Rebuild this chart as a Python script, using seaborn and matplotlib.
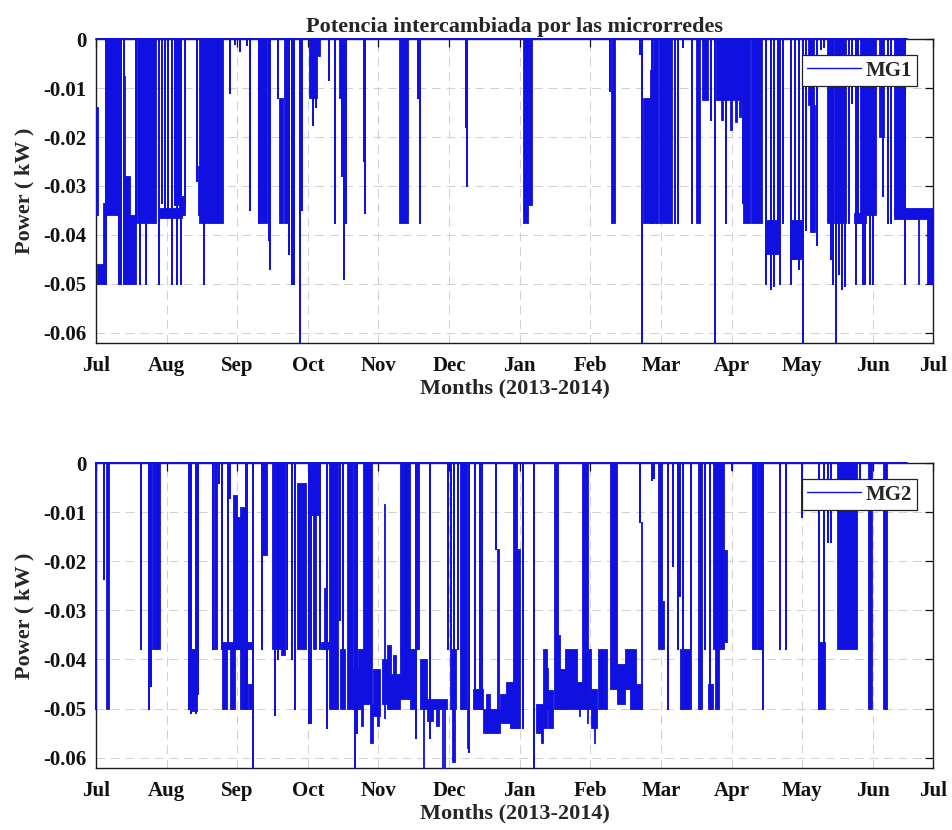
import matplotlib
matplotlib.use("Agg")
import matplotlib.pyplot as plt
import pandas as pd
import seaborn as sns

# ---------------------------------------------------------------- data
# x axis: days since 1 July 2013; y axis: exchanged power in kW
months = ["Jul", "Aug", "Sep", "Oct", "Nov", "Dec", "Jan",
          "Feb", "Mar", "Apr", "May", "Jun", "Jul"]
power_ticks = [0, -0.01, -0.02, -0.03, -0.04, -0.05, -0.06]

# MG1: short discharge events (day, kW) dropping from 0
mg1_spike_day = [4.2, 9.9, 10.9, 12.2, 17.6, 19.2, 21.8, 25.3, 27.7, 28.6, 30.0,
                 31.5, 33.3, 34.3, 35.2, 36.2, 37.3, 39.0, 44.2, 47.3, 58.4, 60.5,
                 62.8, 66.0, 67.2, 71.0, 75.3, 75.8, 79.4, 84.3, 85.5, 86.5, 88.9,
                 90.0, 94.8, 96.0, 101.8, 104.1, 107.5, 108.2, 108.9, 116.7, 117.4,
                 140.5, 141.1, 161.2, 161.8, 224.2, 237.3, 238.3, 242.3, 244.5,
                 249.8, 252.3, 253.8, 255.8, 259.8, 268.3, 270.0, 274.8, 282.2,
                 292.3, 294.5, 295.5, 297.4, 298.2, 299.5, 302.9, 303.3, 305.0,
                 306.5, 308.3, 309.5, 314.3, 316.0, 317.5, 320.4, 321.5, 322.5,
                 324.0, 325.5, 326.5, 328.5, 329.5, 331.4, 332.5, 334.3, 335.2,
                 337.6, 339.0, 343.0, 345.6, 346.6, 352.7]
mg1_spike_kw = [-0.050, -0.050, -0.050, -0.050, -0.0376, -0.050, -0.050, -0.0376,
                -0.050, -0.0335, -0.035, -0.035, -0.050, -0.034, -0.050, -0.034,
                -0.050, -0.034, -0.029, -0.050, -0.011, -0.001, -0.0025, -0.0012,
                -0.035, -0.0376, -0.041, -0.047, -0.012, -0.044, -0.050, -0.050,
                -0.0622, -0.035, -0.0175, -0.0138, -0.0083, -0.0376, -0.028,
                -0.049, -0.0376, -0.025, -0.0355, -0.012, -0.0376, -0.018, -0.030,
                -0.0105, -0.003, -0.0622, -0.0376, -0.0376, -0.0376, -0.0376,
                -0.0376, -0.0015, -0.0376, -0.0165, -0.0622, -0.0376, -0.0335,
                -0.050, -0.051, -0.0505, -0.0376, -0.050, -0.0376, -0.050, -0.046,
                -0.045, -0.047, -0.0622, -0.039, -0.042, -0.002, -0.0015, -0.045,
                -0.050, -0.0622, -0.048, -0.051, -0.0505, -0.0376, -0.013, -0.050,
                -0.0376, -0.050, -0.050, -0.050, -0.050, -0.032, -0.0376, -0.0376,
                -0.050]
mg1_end_day = 353.5

# MG1: sustained periods (start day, end day, upper kW, lower kW)
mg1_blocks = [
    (0.0, 1.0, -0.0138, -0.036), (0.6, 4.0, -0.046, -0.050), (3.2, 4.4, -0.0335, -0.050),
    (4.0, 9.6, 0.0, -0.036), (11.6, 12.8, -0.0076, -0.050), (12.8, 15.0, -0.028, -0.050),
    (15.0, 17.4, -0.036, -0.050), (17.7, 26.3, 0.0, -0.0376), (27.5, 37.5, -0.0345, -0.0365),
    (36.0, 39.0, -0.032, -0.036), (44.5, 45.6, -0.026, -0.036), (45.0, 55.3, 0.0, -0.0376),
    (71.3, 74.4, 0.0, -0.0376), (79.8, 81.6, -0.012, -0.0376), (82.2, 84.0, 0.0, -0.0376),
    (93.1, 96.5, 0.0, -0.012), (96.5, 97.6, 0.0, -0.0035), (106.1, 107.5, 0.0, -0.012),
    (132.3, 136.0, 0.0, -0.0376), (186.3, 188.3, 0.0, -0.0376), (188.3, 190.3, 0.0, -0.034),
    (224.8, 226.3, 0.0, -0.0376), (238.6, 241.5, -0.012, -0.0376), (241.5, 243.0, -0.0063, -0.0376),
    (243.0, 245.3, 0.0, -0.0376), (245.5, 251.0, 0.0, -0.0376), (261.5, 263.2, 0.0, -0.0376),
    (264.2, 266.8, 0.0, -0.0125), (270.5, 282.0, 0.0, -0.0125), (272.5, 273.5, -0.0125, -0.0165),
    (276.5, 277.3, -0.0125, -0.0185), (278.5, 279.5, -0.0125, -0.017), (280.5, 281.5, -0.0125, -0.016),
    (282.3, 285.0, 0.0, -0.0376), (285.5, 290.5, 0.0, -0.0376), (291.7, 297.8, -0.037, -0.044),
    (302.5, 308.0, -0.037, -0.045), (310.5, 313.0, 0.0, -0.0135), (311.5, 313.5, -0.0135, -0.0395),
    (318.7, 322.0, 0.0, -0.0376), (322.5, 327.0, 0.0, -0.0376), (330.5, 333.5, -0.0355, -0.0376),
    (333.2, 336.0, 0.0, -0.0376), (336.0, 340.0, 0.0, -0.036), (341.5, 343.5, 0.0, -0.020),
    (348.0, 353.0, 0.0, -0.036), (348.0, 365.0, -0.0345, -0.0368), (358.4, 358.8, -0.0368, -0.050),
    (362.3, 364.8, -0.0368, -0.050),
]

# MG2: short discharge events (day, kW) dropping from 0
mg2_spike_day = [0.2, 3.7, 19.6, 23.0, 24.0, 40.5, 41.3, 43.5, 44.6, 51.0, 53.6, 54.9,
                 57.5, 58.5, 65.3, 66.0, 68.6, 72.5, 77.9, 79.5, 82.0, 83.5, 85.3, 86.8,
                 92.8, 93.6, 97.6, 100.7, 106.3, 107.8, 113.0, 114.0, 139.6, 140.4,
                 145.5, 153.7, 155.0, 156.3, 157.8, 162.8, 165.5, 167.3, 168.3, 174.6,
                 186.3, 191.2, 237.2, 242.5, 243.3, 249.3, 251.5, 253.6, 254.8, 256.0,
                 259.5, 265.8, 267.8, 277.2, 289.0, 290.1, 290.8, 298.2, 301.1, 307.7,
                 315.2, 317.6, 319.3, 320.6, 333.0]
mg2_spike_kw = [-0.050, -0.0235, -0.0378, -0.050, -0.0455, -0.050, -0.051, -0.051,
                -0.047, -0.0378, -0.004, -0.0378, -0.0378, -0.007, -0.050, -0.050,
                -0.0622, -0.0378, -0.0513, -0.040, -0.030, -0.0378, -0.040, -0.050,
                -0.053, -0.053, -0.0378, -0.054, -0.032, -0.0378, -0.0622, -0.055,
                -0.056, -0.0378, -0.056, -0.0378, -0.0378, -0.0378, -0.0378, -0.0588,
                -0.050, -0.050, -0.050, -0.0175, -0.054, -0.0622, -0.012, -0.0034,
                -0.003, -0.050, -0.021, -0.0378, -0.027, -0.050, -0.0378, -0.0378,
                -0.050, -0.0014, -0.0378, -0.0378, -0.050, -0.0378, -0.0378, -0.011,
                -0.050, -0.050, -0.016, -0.016, -0.0038]
mg2_end_day = 353.5

# MG2: sustained periods (start day, end day, upper kW, lower kW)
mg2_blocks = [
    (4.2, 5.5, 0.0, -0.050), (24.3, 27.8, 0.0, -0.0378), (41.0, 44.0, -0.0378, -0.0505),
    (51.3, 52.6, 0.0, -0.0378), (54.8, 68.0, -0.0365, -0.0378), (54.8, 57.0, -0.0378, -0.050),
    (58.5, 60.5, -0.0378, -0.050), (59.8, 61.5, -0.0065, -0.0378), (61.5, 63.0, -0.011, -0.0378),
    (63.0, 65.0, -0.009, -0.050), (66.4, 68.5, -0.045, -0.050), (71.8, 74.5, 0.0, -0.0187),
    (76.8, 80.5, 0.0, -0.0378), (80.5, 82.5, 0.0, -0.039), (87.8, 91.5, -0.004, -0.0378),
    (93.3, 97.5, 0.0, -0.0105), (94.8, 96.0, -0.0105, -0.0378), (98.0, 101.8, -0.0365, -0.0378),
    (99.3, 100.5, -0.0255, -0.0378), (101.8, 105.7, 0.0, -0.050), (106.5, 108.6, -0.0378, -0.050),
    (109.3, 112.2, 0.0, -0.050), (112.2, 114.4, -0.042, -0.050), (114.4, 116.6, -0.0378, -0.050),
    (115.5, 116.3, -0.050, -0.0535), (116.3, 120.5, 0.0, -0.0378), (116.3, 120.5, -0.0378, -0.049),
    (119.5, 120.8, -0.049, -0.057), (121.0, 123.9, -0.042, -0.0515), (122.5, 123.5, -0.0515, -0.0535),
    (124.6, 126.8, -0.040, -0.049), (125.6, 126.1, -0.0082, -0.052), (126.8, 132.6, -0.043, -0.050),
    (127.0, 128.5, -0.037, -0.045), (129.5, 131.0, -0.039, -0.043), (132.6, 137.0, 0.0, -0.0378),
    (132.6, 137.0, -0.0378, -0.048), (137.0, 139.1, -0.0378, -0.050), (140.1, 141.0, 0.0, -0.0378),
    (141.3, 144.2, -0.040, -0.050), (142.6, 143.1, -0.042, -0.0622), (144.2, 147.1, -0.048, -0.0525),
    (147.1, 153.0, -0.048, -0.050), (148.5, 149.5, -0.050, -0.0535), (150.9, 151.3, -0.050, -0.0622),
    (151.8, 152.1, -0.050, -0.0622), (154.4, 157.0, -0.0378, -0.050), (155.3, 156.5, -0.050, -0.061),
    (158.7, 161.6, 0.0, -0.050), (161.6, 162.2, -0.050, -0.058), (164.6, 168.9, -0.046, -0.050),
    (168.9, 176.2, -0.050, -0.055), (170.0, 172.0, -0.047, -0.050), (174.8, 175.6, -0.0175, -0.054),
    (176.2, 182.7, -0.047, -0.053), (179.0, 180.5, -0.0445, -0.047), (180.5, 182.7, -0.0445, -0.054),
    (182.0, 183.7, 0.0, -0.054), (183.7, 184.9, -0.0175, -0.054), (191.8, 195.0, -0.049, -0.055),
    (194.0, 195.0, -0.055, -0.057), (195.0, 196.5, -0.0378, -0.054), (196.5, 197.2, -0.0418, -0.050),
    (197.2, 199.4, -0.0462, -0.054), (199.6, 201.5, 0.0, -0.050), (201.5, 202.3, -0.035, -0.050),
    (202.3, 204.5, -0.042, -0.050), (204.5, 209.6, -0.0378, -0.050), (209.6, 211.8, -0.0445, -0.050),
    (210.5, 211.0, -0.050, -0.0515), (211.8, 214.7, 0.0, -0.050), (214.2, 214.7, -0.050, -0.053),
    (214.7, 216.0, -0.0378, -0.050), (216.0, 218.3, -0.046, -0.054), (217.3, 217.8, -0.054, -0.057),
    (219.0, 222.7, -0.0378, -0.050), (224.1, 227.0, 0.0, -0.046), (227.0, 230.6, -0.041, -0.049),
    (230.6, 232.8, -0.0378, -0.046), (232.8, 235.7, -0.0378, -0.050), (235.7, 237.9, -0.045, -0.050),
    (237.6, 238.0, -0.012, -0.050), (244.9, 247.0, 0.0, -0.0378), (247.0, 247.6, -0.028, -0.0378),
    (254.6, 259.7, -0.0378, -0.050), (262.6, 264.5, 0.0, -0.050), (267.0, 269.2, -0.045, -0.050),
    (269.2, 274.0, 0.0, -0.0378), (270.0, 271.5, -0.0378, -0.050), (273.8, 275.0, -0.0177, -0.0365),
    (286.0, 288.2, 0.0, -0.0378), (315.5, 318.0, -0.0365, -0.050), (323.0, 331.7, 0.0, -0.0378),
    (336.5, 338.5, 0.0, -0.050), (343.0, 344.8, 0.0, -0.050),
]

# ---------------------------------------------------------------- style
BLUE = "#1010e0"
sns.set_theme(style="white")
plt.rcParams["font.family"] = ["Liberation Serif", "DejaVu Serif"]
plt.rcParams["font.weight"] = "bold"
plt.rcParams["axes.labelweight"] = "bold"
plt.rcParams["axes.titleweight"] = "bold"


def trace_frame(spike_day, spike_kw, end_day):
    """Series path: zero baseline with each event drawn as a drop and return."""
    xs, ys = [0.0], [0.0]
    for d, v in sorted(zip(spike_day, spike_kw)):
        xs += [d, d, d]
        ys += [0.0, v, 0.0]
    xs.append(end_day)
    ys.append(0.0)
    return pd.DataFrame({"day": xs, "kw": ys})


def draw_panel(ax, name, spike_day, spike_kw, end_day, blocks):
    df = trace_frame(spike_day, spike_kw, end_day)
    sns.lineplot(data=df, x="day", y="kw", sort=False, estimator=None,
                 color=BLUE, linewidth=1.4, ax=ax, label=name, zorder=3)
    ax.lines[-1].set_clip_on(False)
    for s, e, top, bottom in blocks:
        ax.fill_between([s, e], [top, top], [bottom, bottom], color=BLUE,
                        linewidth=0.6, edgecolor=BLUE, zorder=3)

    ax.set_xlim(0, 365)
    ax.set_ylim(-0.0622, 0)
    month_pos = [i * 30.8 for i in range(12)] + [365]
    ax.set_xticks(month_pos, labels=months)
    ax.set_yticks(power_ticks, labels=[f"{v:g}" for v in power_ticks])
    ax.tick_params(direction="in", length=6, width=0.9, top=True, right=True,
                   labelsize=15, colors="#111111")
    ax.tick_params(axis="x", pad=9)
    ax.tick_params(axis="y", pad=7)
    ax.grid(True, linestyle=(0, (9, 6)), color="#cfcfcf", linewidth=0.7)
    ax.set_axisbelow(True)
    for sp in ax.spines.values():
        sp.set_color("#1a1a1a")
        sp.set_linewidth(1.0)
        sp.set_zorder(2)
    ax.set_xlabel("Months (2013-2014)", fontsize=16, labelpad=2)
    ax.set_ylabel("Power ( kW )", fontsize=16, labelpad=6)
    leg = ax.legend(loc="upper right", bbox_to_anchor=(0.981, 0.947),
                    borderaxespad=0, fancybox=False, framealpha=1,
                    edgecolor="#222222", fontsize=15, handlelength=2.6,
                    handletextpad=0.2, borderpad=0.25)
    leg.get_frame().set_linewidth(0.9)
    for line in leg.get_lines():
        line.set_linewidth(1.0)


fig = plt.figure(figsize=(9.52, 8.30), dpi=100)
ax1 = fig.add_axes([0.1008, 0.5864, 0.8792, 0.3663])
ax2 = fig.add_axes([0.1008, 0.0743, 0.8792, 0.3675])

draw_panel(ax1, "MG1", mg1_spike_day, mg1_spike_kw, mg1_end_day, mg1_blocks)
draw_panel(ax2, "MG2", mg2_spike_day, mg2_spike_kw, mg2_end_day, mg2_blocks)
ax1.set_title("Potencia intercambiada por las microrredes", fontsize=16, pad=5)

fig.savefig("out.png", dpi=100)
